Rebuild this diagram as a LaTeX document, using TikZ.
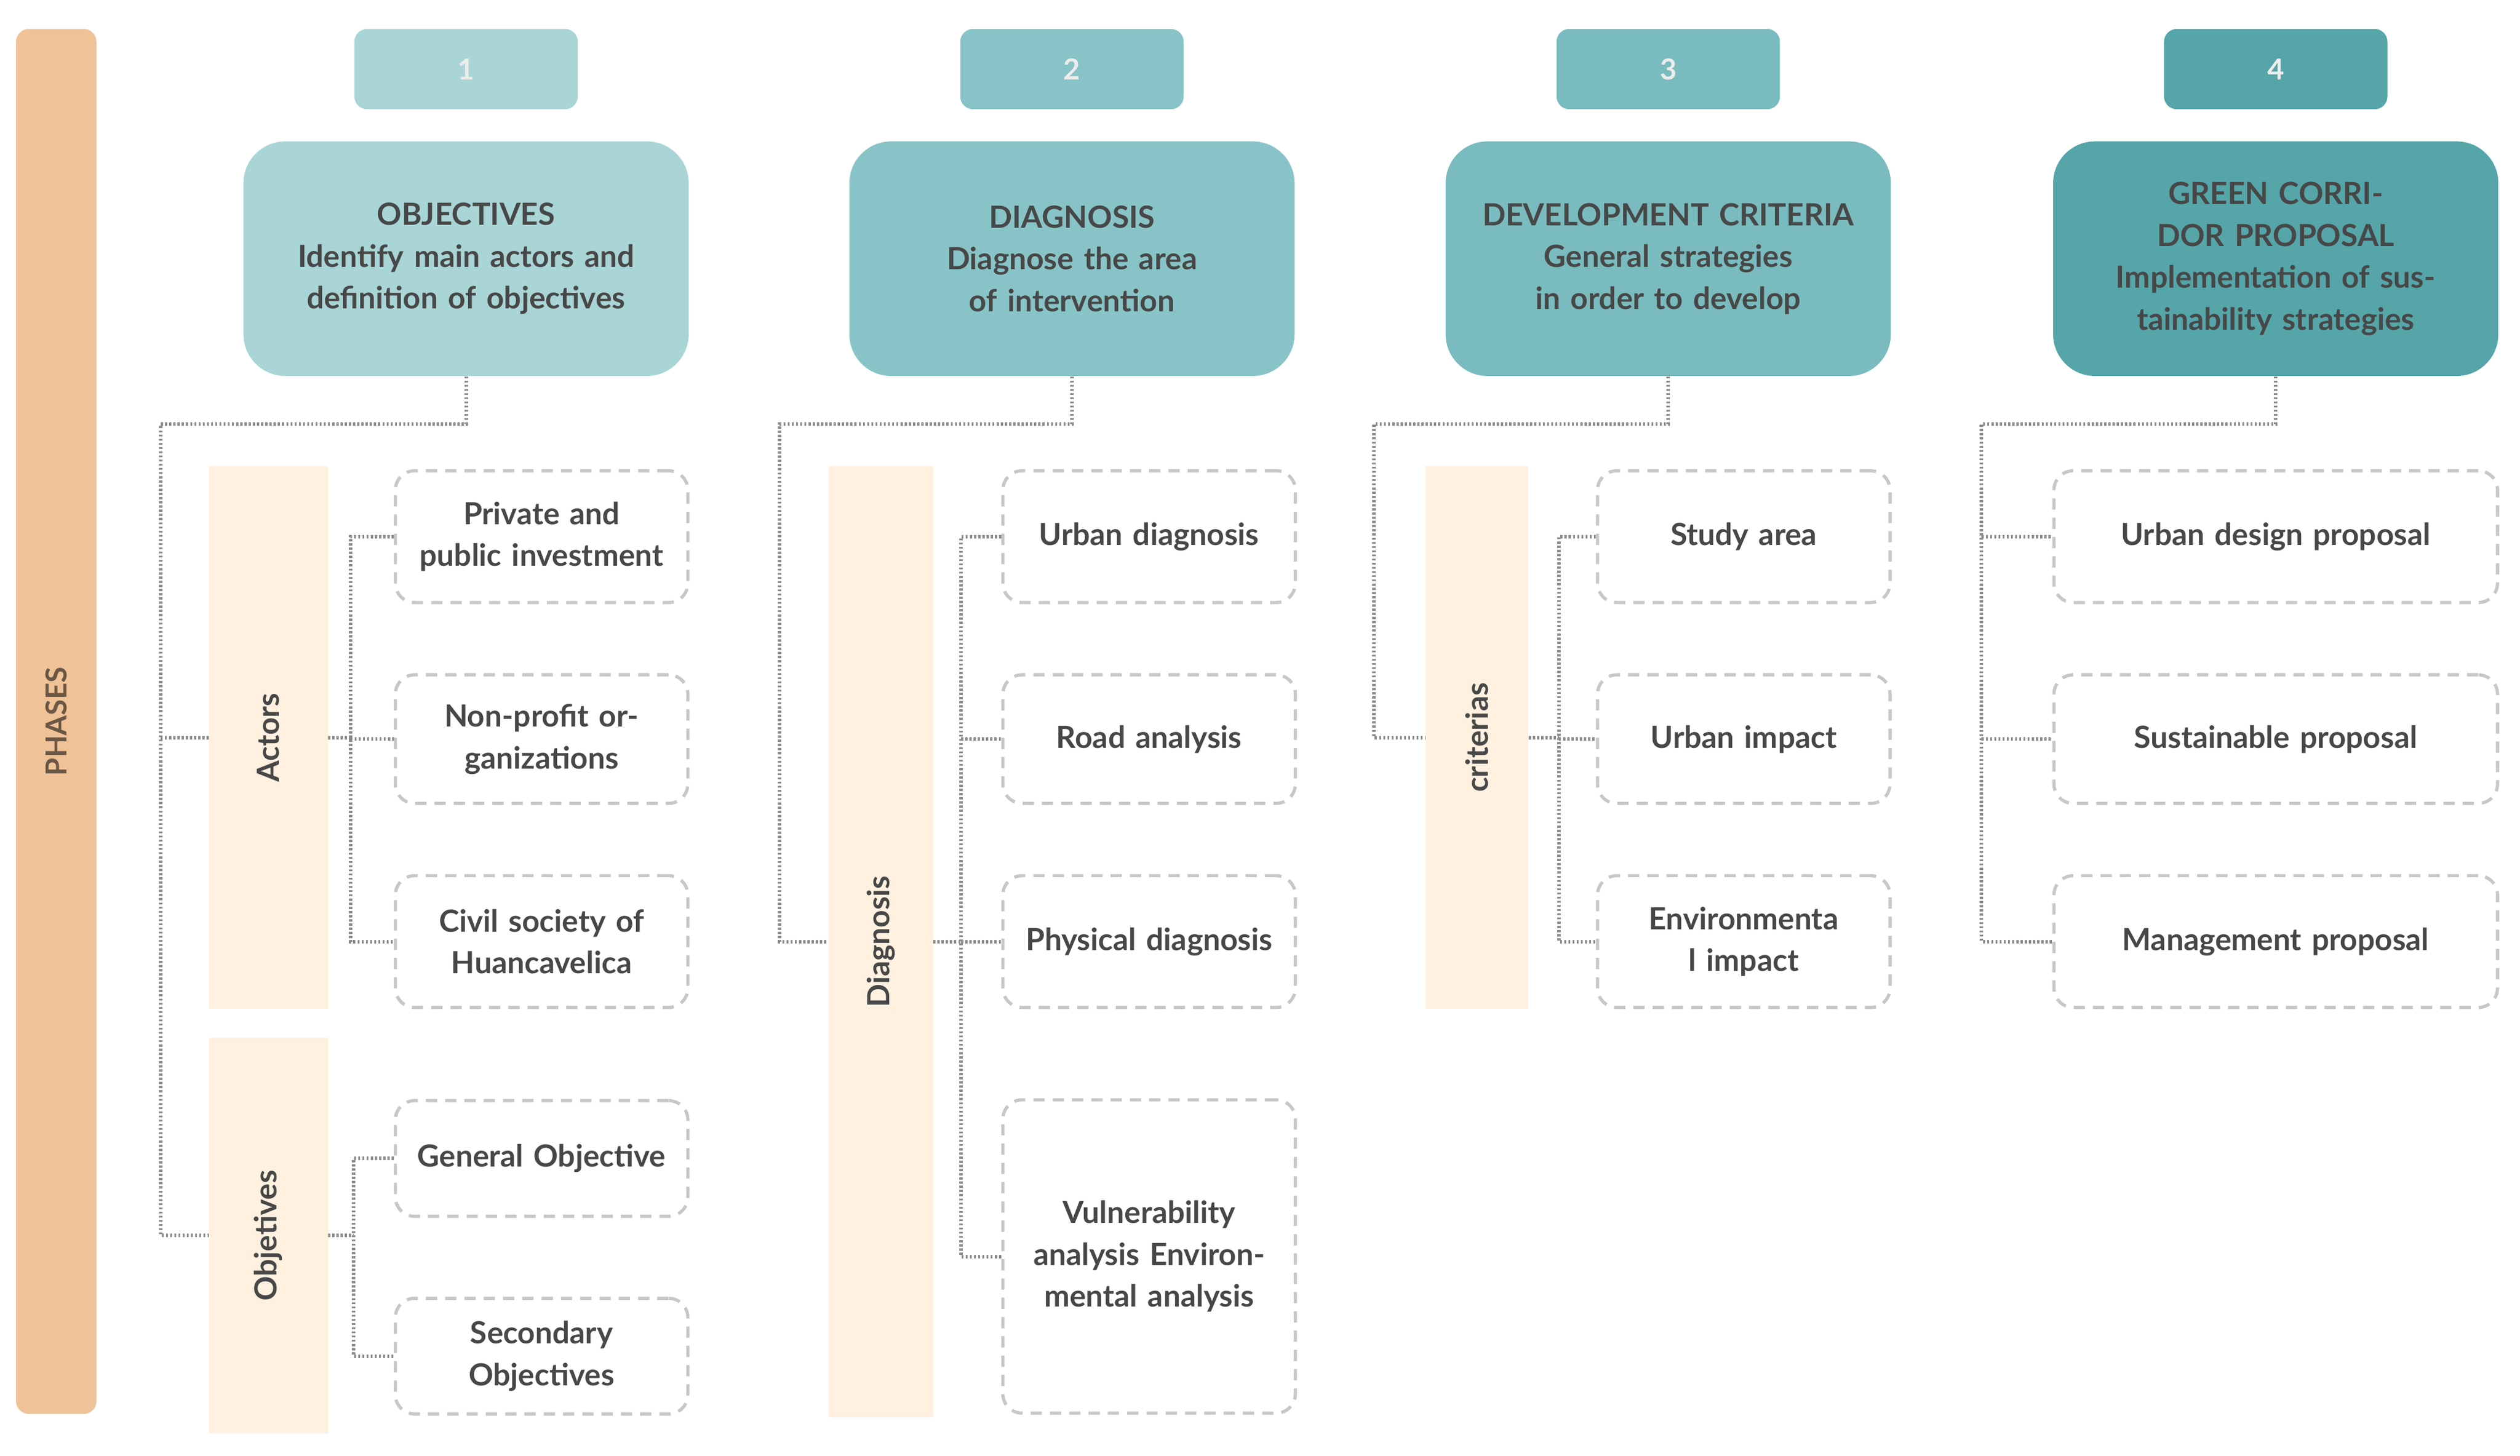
\documentclass[tikz,border=0pt]{standalone}
\usepackage{fontspec}
\setmainfont{Lato}
\begin{document}
\begin{tikzpicture}[x=1pt,y=-1pt,
  txt/.style={font=\bfseries\fontsize{19}{26}\selectfont,text=black!72,align=center},
  num/.style={rounded corners=8pt,minimum width=139pt,minimum height=50pt,font=\bfseries\fontsize{18}{22}\selectfont,text=white!85!gray},
  head/.style={txt,rounded corners=26pt,minimum width=277pt,minimum height=146pt,text width=245pt},
  bar/.style={fill=orange!12!white,draw=none},
  leaf/.style={txt,draw=black!22,dashed,dash pattern=on 7pt off 5pt,line width=2pt,rounded corners=12pt,text width=170pt,inner sep=0pt},
  conn/.style={draw=black!45,line width=2.2pt,dash pattern=on 1.3pt off 1.3pt}]
\useasboundingbox (0,0) rectangle (1568,906);
\definecolor{c1}{HTML}{A9D5D6}\definecolor{c2}{HTML}{88C4C7}
\definecolor{c3}{HTML}{79BBBE}\definecolor{c4}{HTML}{55A5A9}
\definecolor{ph}{HTML}{EFC297}
% phases
\node[fill=ph,rounded corners=8pt,minimum width=50pt,minimum height=862pt] (phases) at (35,449) {};
\node[rotate=90,font=\bfseries\fontsize{18}{22}\selectfont,text=black!55!ph] (phasest) at (35,449) {PHASES};
% numbers
\node[num,fill=c1] (n1) at (290,43) {1};
\node[num,fill=c2] (n2) at (667,43) {2};
\node[num,fill=c3] (n3) at (1038,43) {3};
\node[num,fill=c4] (n4) at (1416,43) {4};
% headers
\node[head,fill=c1] (h1) at (290,161) {OBJECTIVES\\Identify main actors and definition of objectives};
\node[head,fill=c2] (h2) at (667,161) {DIAGNOSIS\\Diagnose the area of intervention};
\node[head,fill=c3] (h3) at (1038,161) {DEVELOPMENT CRITERIA\\General strategies in order to develop};
\node[head,fill=c4] (h4) at (1416,161) {GREEN CORRIDOR PROPOSAL\\Implementation of sustainability strategies};
% bars
\node[bar,minimum width=74pt,minimum height=338pt] (actors) at (167,459) {};
\node[rotate=90,txt] at (167,459) {Actors};
\node[bar,minimum width=74pt,minimum height=246pt] (objet) at (167,769) {};
\node[rotate=90,txt] at (167,769) {Objetives};
\node[bar,minimum width=65pt,minimum height=592pt] (diag) at (548,586) {};
\node[rotate=90,txt] at (548,586) {Diagnosis};
\node[bar,minimum width=64pt,minimum height=338pt] (crit) at (919,459) {};
\node[rotate=90,txt] at (919,459) {criterias};
% leaves col1
\node[leaf,minimum width=182pt,minimum height=82pt] (a1) at (337,334) {Private and public investment};
\node[leaf,minimum width=182pt,minimum height=80pt] (a2) at (337,460) {Non-profit organizations};
\node[leaf,minimum width=182pt,minimum height=82pt] (a3) at (337,586) {Civil society of Huancavelica};
\node[leaf,minimum width=182pt,minimum height=72pt] (o1) at (337,721) {General Objective};
\node[leaf,minimum width=182pt,minimum height=72pt] (o2) at (337,844) {Secondary Objectives};
% col2
\node[leaf,minimum width=182pt,minimum height=82pt] (d1) at (715,334) {Urban diagnosis};
\node[leaf,minimum width=182pt,minimum height=80pt] (d2) at (715,460) {Road analysis};
\node[leaf,minimum width=182pt,minimum height=82pt] (d3) at (715,586) {Physical diagnosis};
\node[leaf,minimum width=182pt,minimum height=195pt] (d4) at (715,782) {Vulnerability analysis Environmental analysis};
% col3
\node[leaf,minimum width=182pt,minimum height=82pt] (c31) at (1085,334) {Study area};
\node[leaf,minimum width=182pt,minimum height=80pt] (c32) at (1085,460) {Urban impact};
\node[leaf,minimum width=182pt,minimum height=82pt] (c33) at (1085,586) {Environmenta l impact};
% col4
\node[leaf,minimum width=276pt,minimum height=82pt,text width=260pt] (g1) at (1416,334) {Urban design proposal};
\node[leaf,minimum width=276pt,minimum height=80pt,text width=260pt] (g2) at (1416,460) {Sustainable proposal};
\node[leaf,minimum width=276pt,minimum height=82pt,text width=260pt] (g3) at (1416,586) {Management proposal};
% connectors
\coordinate (k1) at (100,264); \coordinate (k2) at (485,264);
\coordinate (k3) at (855,264); \coordinate (k4) at (1233,264);
\coordinate (b1) at (218,0); \coordinate (b2) at (220,0);
\coordinate (b3) at (598,0); \coordinate (b4) at (970,0);
\path[conn] (h1.south) |- (k1) |- (objet.west);
\path[conn] (k1 |- actors.west) -- (actors.west);
\path[conn] (actors.east) -- (b1 |- actors.east);
\path[conn] (a1.west) -| (b1 |- a3.west) -- (a3.west);
\path[conn] (b1 |- a2.west) -- (a2.west);
\path[conn] (objet.east) -- (b2 |- objet.east);
\path[conn] (o1.west) -| (b2 |- o2.west) -- (o2.west);
\path[conn] (h2.south) |- (k2) |- (diag.west);
\path[conn] (diag.east) -- (b3 |- diag.east);
\path[conn] (d1.west) -| (b3 |- d4.west) -- (d4.west);
\path[conn] (b3 |- d2.west) -- (d2.west);
\path[conn] (b3 |- d3.west) -- (d3.west);
\path[conn] (h3.south) |- (k3) |- (crit.west);
\path[conn] (crit.east) -- (b4 |- crit.east);
\path[conn] (c31.west) -| (b4 |- c33.west) -- (c33.west);
\path[conn] (b4 |- c32.west) -- (c32.west);
\path[conn] (h4.south) |- (k4) |- (g3.west);
\path[conn] (k4 |- g1.west) -- (g1.west);
\path[conn] (k4 |- g2.west) -- (g2.west);
\end{tikzpicture}
\end{document}
